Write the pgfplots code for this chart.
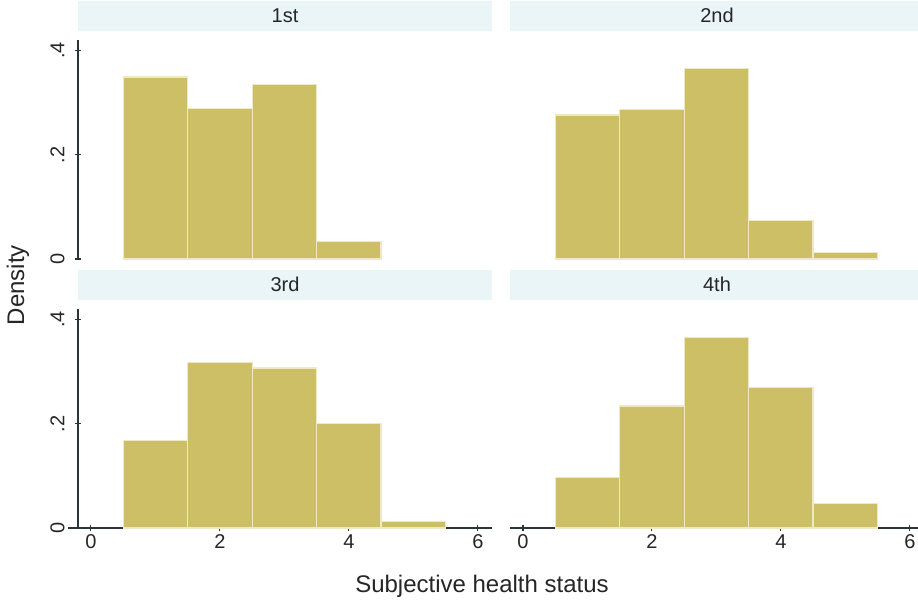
\documentclass[border=0pt]{standalone}
\usepackage{pgfplots}
\pgfplotsset{compat=1.18}
\usepackage{fontspec}
\setmainfont{Liberation Sans}
\definecolor{barc}{RGB}{204,191,102}
\definecolor{barline}{RGB}{238,233,196}
\definecolor{stripc}{RGB}{234,245,248}
\definecolor{axisc}{RGB}{40,52,56}
\pgfplotsset{
 panel/.style={
   scale only axis, width=414pt, height=219pt,
   anchor=south west,
   xmin=-0.2, xmax=6.22, ymin=0, ymax=0.42,
   tick style={line width=1.2pt, color=axisc},
   tick align=outside, major tick length=6pt,
   xtick={0,2,4,6}, xticklabels={0,2,4,6},
   ytick={0,0.2,0.4}, yticklabels={0,.2,.4},
   tick label style={font=\fontsize{20}{24}\selectfont, text=black!85},
   yticklabel style={rotate=90, anchor=south},
   yticklabel shift=7pt,
   title style={fill=stripc, minimum width=414pt, minimum height=30pt, inner sep=0pt,
     anchor=south, at={(0.5,1)}, yshift=3pt, font=\fontsize{20}{24}\selectfont, text=black!85},
   clip=false,
 },
 noarrow/.style={axis line style={-, line width=1.2pt, color=axisc}},
 bars/.style={ybar interval, fill=barc, draw=barline, line width=1.2pt},
}
\begin{document}
\begin{tikzpicture}[x=1pt,y=1pt]
\useasboundingbox[fill=white] (0,0) rectangle (918,-600);
\clip (0,0) rectangle (918,-600);
% 1st
\begin{axis}[panel, at={(78pt,-259pt)}, title={1st},
  axis x line=none, axis y line=left, xtick=\empty, noarrow]
\addplot[bars] coordinates {(0.5,0.349) (1.5,0.289) (2.5,0.335) (3.5,0.033) (4.5,0.033)};
\end{axis}
% 2nd
\begin{axis}[panel, at={(510pt,-259pt)}, title={2nd},
  axis x line=none, axis y line=none, xtick=\empty, ytick=\empty, noarrow]
\addplot[bars] coordinates {(0.5,0.276) (1.5,0.286) (2.5,0.366) (3.5,0.074) (4.5,0.013) (5.5,0.013)};
\end{axis}
% 3rd
\begin{axis}[panel, at={(78pt,-528pt)}, title={3rd},
  axis x line=bottom, axis y line=left, noarrow,
  x axis line style={shorten <=-10pt}]
\addplot[bars] coordinates {(0.5,0.168) (1.5,0.317) (2.5,0.307) (3.5,0.200) (4.5,0.012) (5.5,0.012)};
\end{axis}
% 4th
\begin{axis}[panel, at={(510pt,-528pt)}, title={4th},
  axis x line=bottom, axis y line=none, ytick=\empty, noarrow]
\addplot[bars] coordinates {(0.5,0.097) (1.5,0.234) (2.5,0.365) (3.5,0.270) (4.5,0.047) (5.5,0.047)};
\end{axis}
\node[rotate=90, font=\fontsize{24}{28}\selectfont, text=black!85] at (18,-285) {Density};
\node[anchor=base, font=\fontsize{24}{28}\selectfont, text=black!85] at (482,-592) {Subjective health status};
\end{tikzpicture}
\end{document}
